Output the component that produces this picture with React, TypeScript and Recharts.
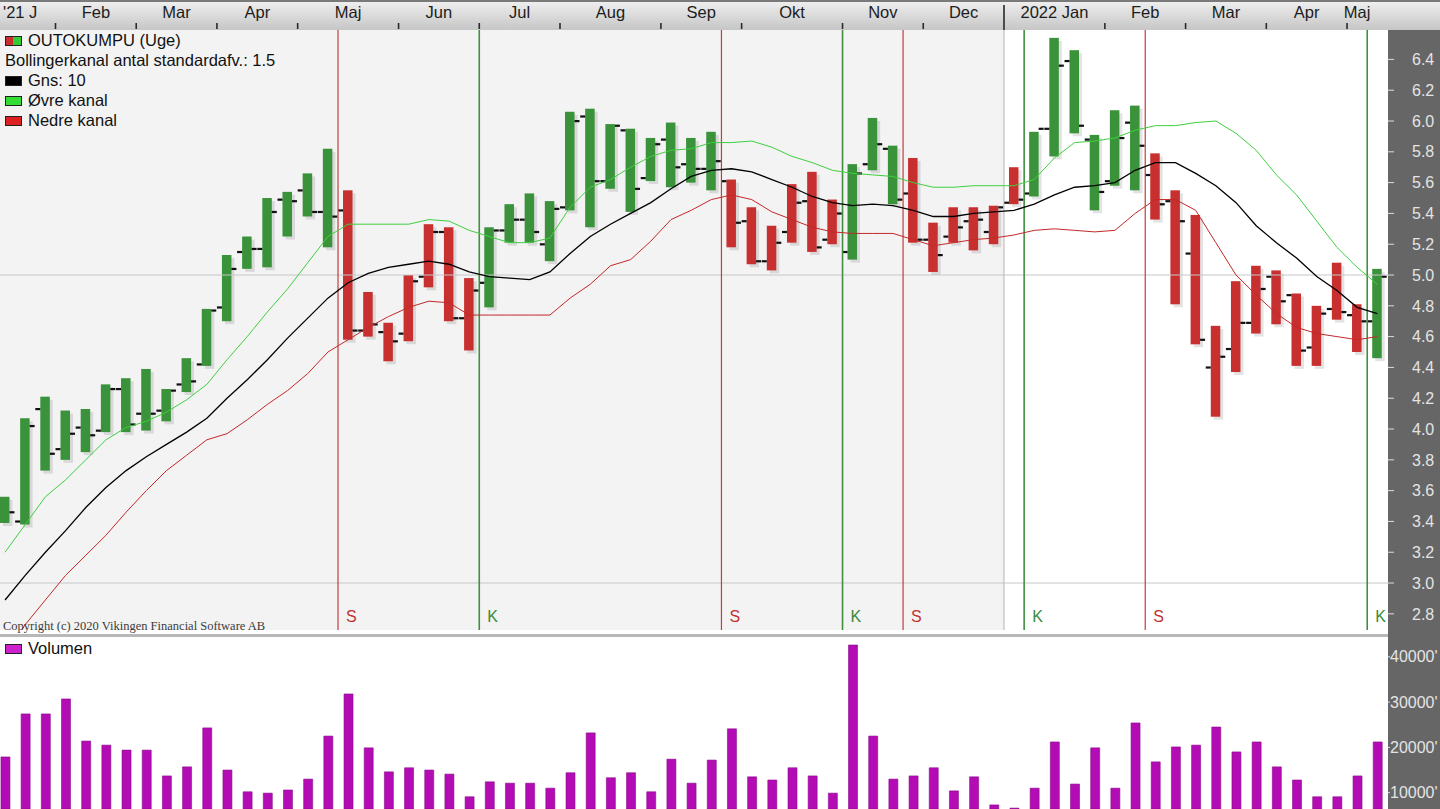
import React from 'react';
import {
  ComposedChart,
  BarChart,
  Bar,
  Line,
  XAxis,
  YAxis,
  ReferenceLine,
  ReferenceArea,
} from 'recharts';

// Weekly OUTOKUMPU quotes, Jan 2021 - May 2022 (one entry per week)
const highs = [
  3.56, 4.07, 4.21, 4.12, 4.13, 4.29, 4.33, 4.39, 4.26, 4.46,
  4.78, 5.13, 5.25, 5.50, 5.54, 5.66, 5.82, 5.55, 4.89, 4.69,
  5.00, 5.33, 5.31, 4.98, 5.31, 5.46, 5.53, 5.48, 6.06, 6.08,
  5.98, 5.95, 5.89, 5.99, 5.89, 5.93, 5.62, 5.44, 5.32, 5.59,
  5.67, 5.49, 5.72, 6.02, 5.84, 5.76, 5.34, 5.44, 5.44, 5.45,
  5.70, 5.93, 6.54, 6.46, 5.91, 6.07, 6.10, 5.79, 5.55, 5.39,
  4.67, 4.96, 5.06, 5.03, 4.88, 4.80, 5.08, 4.81, 5.04,
];
const lows = [
  3.39, 3.38, 3.73, 3.80, 3.85, 3.98, 3.98, 3.99, 4.05, 4.24,
  4.41, 4.70, 5.04, 5.05, 5.25, 5.38, 5.18, 4.58, 4.60, 4.44,
  4.57, 4.92, 4.70, 4.51, 4.79, 5.21, 5.21, 5.09, 5.42, 5.31,
  5.56, 5.41, 5.61, 5.57, 5.60, 5.55, 5.18, 5.07, 5.03, 5.21,
  5.15, 5.20, 5.10, 5.68, 5.46, 5.21, 5.02, 5.21, 5.16, 5.20,
  5.46, 5.51, 5.77, 5.92, 5.42, 5.58, 5.55, 5.36, 4.81, 4.55,
  4.08, 4.37, 4.62, 4.68, 4.41, 4.41, 4.71, 4.50, 4.46,
];
const opens = [
  3.42, 3.40, 4.13, 3.87, 4.01, 3.99, 4.26, 4.10, 4.12, 4.29,
  4.42, 4.79, 5.15, 5.17, 5.49, 5.55, 5.41, 5.42, 4.64, 4.63,
  4.62, 4.99, 5.28, 4.72, 4.95, 5.29, 5.36, 5.20, 5.44, 6.03,
  5.61, 5.94, 5.63, 5.88, 5.72, 5.69, 5.61, 5.35, 5.09, 5.28,
  5.48, 5.23, 5.15, 5.72, 5.82, 5.53, 5.23, 5.25, 5.35, 5.28,
  5.47, 5.53, 5.95, 6.39, 5.88, 5.61, 5.99, 5.65, 5.48, 5.14,
  4.40, 4.52, 4.69, 4.99, 4.87, 4.53, 4.78, 4.74, 4.70,
];
const closes = [
  3.46, 4.02, 3.84, 3.97, 3.96, 4.26, 4.03, 4.10, 4.25, 4.31,
  4.77, 5.04, 5.17, 5.41, 5.48, 5.41, 5.38, 4.64, 4.68, 4.57,
  4.96, 5.28, 4.72, 4.90, 5.29, 5.36, 5.28, 5.43, 6.00, 5.61,
  5.97, 5.56, 5.85, 5.70, 5.69, 5.74, 5.34, 5.09, 5.21, 5.47,
  5.18, 5.40, 5.66, 5.85, 5.49, 5.23, 5.13, 5.31, 5.36, 5.44,
  5.49, 5.95, 6.36, 5.97, 5.54, 5.89, 5.84, 5.46, 5.35, 4.58,
  4.47, 4.69, 4.91, 4.83, 4.51, 4.75, 4.76, 4.70, 4.99,
];

// Bollinger channel (10 week average, 1.5 standard deviations)
const averages = [
  2.89, 3.05, 3.20, 3.34, 3.49, 3.62, 3.73, 3.82, 3.90, 3.98,
  4.07, 4.20, 4.32, 4.45, 4.59, 4.72, 4.85, 4.95, 5.01, 5.05,
  5.07, 5.09, 5.07, 5.02, 4.99, 4.98, 4.97, 5.02, 5.14, 5.25,
  5.33, 5.40, 5.47, 5.56, 5.64, 5.68, 5.69, 5.67, 5.62, 5.57,
  5.51, 5.47, 5.45, 5.46, 5.45, 5.42, 5.38, 5.38, 5.40, 5.41,
  5.42, 5.46, 5.52, 5.57, 5.58, 5.60, 5.68, 5.73, 5.73, 5.66,
  5.58, 5.47, 5.32, 5.21, 5.11, 4.99, 4.90, 4.79, 4.75,
];
const upperBand = [
  3.20, 3.38, 3.56, 3.67, 3.80, 3.93, 4.01, 4.05, 4.11, 4.19,
  4.29, 4.45, 4.60, 4.76, 4.91, 5.08, 5.25, 5.33, 5.33, 5.33,
  5.33, 5.36, 5.35, 5.29, 5.25, 5.21, 5.21, 5.24, 5.44, 5.57,
  5.62, 5.70, 5.77, 5.81, 5.82, 5.86, 5.86, 5.87, 5.83, 5.77,
  5.73, 5.68, 5.66, 5.65, 5.64, 5.60, 5.57, 5.57, 5.58, 5.58,
  5.58, 5.62, 5.76, 5.86, 5.87, 5.89, 5.94, 5.97, 5.97, 5.99,
  6.00, 5.92, 5.81, 5.65, 5.52, 5.35, 5.18, 5.05, 4.94,
];
const lowerBand = [
  2.53, 2.73, 2.89, 3.05, 3.18, 3.31, 3.46, 3.60, 3.73, 3.83,
  3.93, 3.97, 4.06, 4.16, 4.25, 4.36, 4.50, 4.58, 4.66, 4.73,
  4.79, 4.83, 4.82, 4.74, 4.74, 4.74, 4.74, 4.74, 4.85, 4.94,
  5.06, 5.10, 5.22, 5.36, 5.42, 5.49, 5.52, 5.49, 5.41, 5.36,
  5.31, 5.28, 5.27, 5.27, 5.27, 5.23, 5.19, 5.21, 5.23, 5.24,
  5.26, 5.29, 5.30, 5.29, 5.28, 5.29, 5.40, 5.49, 5.49, 5.42,
  5.21, 5.00, 4.87, 4.75, 4.66, 4.62, 4.60, 4.58, 4.60,
];

// Weekly traded volume
const volumes = [
  17900, 27400, 27400, 30700, 21400, 20500, 19400, 19400, 13700, 15700,
  24300, 15000, 10200, 9900, 10600, 13000, 22500, 31800, 19900, 14600,
  15500, 15000, 14100, 9100, 12400, 12100, 12100, 11000, 14400, 23200,
  13300, 14400, 10200, 17400, 12100, 17200, 24100, 13500, 12800, 15500,
  13700, 9900, 42600, 22500, 13000, 13700, 15500, 10400, 13500, 7300,
  6600, 11000, 21200, 11900, 19900, 11000, 25400, 16800, 20100, 20500,
  24500, 19000, 21200, 15700, 12800, 9100, 9100, 13700, 21200,
];

// Buy (K) / sell (S) signals, placed between two weeks
const signalAt = [16.5, 23.5, 35.5, 41.5, 44.5, 50.5, 56.5, 67.5];
const signalType = ['S', 'K', 'S', 'K', 'S', 'K', 'S', 'K'];

// Month labels and the week each month starts in
const monthLabels = ["'21 J", 'Feb', 'Mar', 'Apr', 'Maj', 'Jun', 'Jul', 'Aug', 'Sep', 'Okt', 'Nov', 'Dec', '2022 Jan', 'Feb', 'Mar', 'Apr', 'Maj'];
const monthStart = [0, 3, 7, 11, 15, 20, 24, 28, 33, 37, 42, 46, 50, 55, 59, 63, 67];

const priceTicks = [2.8, 3.0, 3.2, 3.4, 3.6, 3.8, 4.0, 4.2, 4.4, 4.6, 4.8, 5.0, 5.2, 5.4, 5.6, 5.8, 6.0, 6.2, 6.4];
const volumeTicks = [10000, 20000, 30000, 40000];

const X_MIN = -0.25;
const X_MAX = 68.53;
const GREEN = '#3a923a';
const RED = '#c83030';
const FONT = '"Liberation Sans", Arial, sans-serif';

const regimeOf = (i: number) => {
  let t = 'K';
  signalAt.forEach((s, k) => {
    if (s < i) t = signalType[k];
  });
  return t;
};

const rows = highs.map((h, i) => ({
  i,
  high: h,
  low: lows[i],
  open: opens[i],
  close: closes[i],
  avg: averages[i],
  upper: upperBand[i],
  lower: lowerBand[i],
  vol: volumes[i],
  regime: regimeOf(i),
}));

// header tick descriptors: month label centres and month boundaries
type HeadTick = { kind: 'label' | 'bound'; text?: string; year?: boolean; anchor?: string };
const headTicks = new Map<number, HeadTick>();
monthLabels.forEach((label, k) => {
  const start = monthStart[k];
  const next = k + 1 < monthStart.length ? monthStart[k + 1] : highs.length - 1;
  if (k === 0) {
    headTicks.set(X_MIN, { kind: 'label', text: label, anchor: 'start' });
  } else {
    headTicks.set(start - 0.5, { kind: 'bound', year: label.startsWith('2022') });
    headTicks.set((start - 0.5 + next - 0.5) / 2, { kind: 'label', text: label, anchor: 'middle' });
  }
});
const headTickValues = Array.from(headTicks.keys()).sort((a, b) => a - b);
const yearBoundary = monthStart[monthLabels.findIndex((m) => m.startsWith('2022'))] - 0.5;

const HeaderTick = (props: any) => {
  const { x, payload } = props;
  const t = headTicks.get(payload.value);
  if (!t) return null;
  if (t.kind === 'bound') {
    return t.year ? (
      <line x1={x} x2={x} y1={5} y2={30} stroke="#4a4a4a" strokeWidth={2} />
    ) : (
      <line x1={x} x2={x} y1={23} y2={29} stroke="#2a2a2a" strokeWidth={1.6} />
    );
  }
  return (
    <text
      x={t.anchor === 'start' ? x + 3 : x}
      y={18}
      textAnchor={t.anchor}
      fontSize={16.5}
      fontFamily={FONT}
      fill="#1c1c1c"
    >
      {t.text}
    </text>
  );
};

// High-low bar with open tick on the left and close tick on the right
const PriceBar = (props: any) => {
  const { x, y, width, height, payload } = props;
  if (payload == null || height == null) return null;
  const span = payload.high - payload.low;
  const ppu = span > 0 ? height / span : 0;
  const yOpen = y + (payload.high - payload.open) * ppu;
  const yClose = y + (payload.high - payload.close) * ppu;
  const fill = payload.regime === 'K' ? GREEN : RED;
  return (
    <g>
      <rect x={x + 3} y={y + 3} width={width} height={height} fill="rgba(0,0,0,0.11)" />
      <rect x={x} y={y} width={width} height={height} fill={fill} />
      <rect x={x - 5} y={yOpen - 1} width={5} height={2.2} fill="#111" />
      <rect x={x + width} y={yClose - 1} width={5} height={2.2} fill="#111" />
    </g>
  );
};

const LegendIcon = ({ color, split }: { color?: string; split?: boolean }) => (
  <span
    style={{
      display: 'inline-block',
      width: 17,
      height: 10,
      border: '1px solid #222',
      boxSizing: 'border-box',
      background: split ? `linear-gradient(90deg, ${RED} 50%, #33cc33 50%)` : color,
      marginRight: 6,
      verticalAlign: 'middle',
      position: 'relative',
      top: -1,
    }}
  />
);

const legendRow: React.CSSProperties = {
  height: 20,
  lineHeight: '20px',
  fontSize: 16.5,
  fontFamily: FONT,
  color: '#111',
  whiteSpace: 'nowrap',
};

export default function App() {
  return (
    <div
      style={{
        position: 'absolute',
        left: 0,
        top: 0,
        width: 1440,
        height: 809,
        overflow: 'hidden',
        background: '#ffffff',
        fontFamily: FONT,
      }}
    >
      {/* header band */}
      <div
        style={{
          position: 'absolute',
          left: 0,
          top: 0,
          width: 1440,
          height: 30,
          boxSizing: 'border-box',
          borderTop: '2px solid #7a7a7a',
          background: 'linear-gradient(#eeeeee, #c6c6c6)',
        }}
      />
      {/* right scale panel */}
      <div style={{ position: 'absolute', left: 1388, top: 30, width: 52, height: 779, background: '#666666' }} />

      {/* price panel */}
      <div style={{ position: 'absolute', left: 0, top: 0 }}>
        <ComposedChart width={1440} height={630} data={rows} margin={{ top: 0, right: 0, bottom: 0, left: 0 }}>
          <XAxis
            xAxisId="x"
            dataKey="i"
            type="number"
            orientation="top"
            height={30}
            domain={[X_MIN, X_MAX]}
            allowDataOverflow
            ticks={headTickValues}
            interval={0}
            tick={<HeaderTick />}
            tickLine={false}
            axisLine={false}
          />
          <YAxis
            yAxisId="p"
            orientation="right"
            width={52}
            domain={[2.695, 6.591]}
            allowDataOverflow
            ticks={priceTicks}
            interval={0}
            tickFormatter={(v: number) => v.toFixed(1)}
            tick={{ fill: '#e4e4e4', fontSize: 16, fontFamily: FONT }}
            tickSize={6}
            tickMargin={18}
            tickLine={{ stroke: '#dddddd' }}
            axisLine={false}
          />
          <ReferenceArea xAxisId="x" yAxisId="p" x1={X_MIN} x2={yearBoundary} fill="#f3f3f3" fillOpacity={1} stroke="none" />
          <ReferenceLine xAxisId="x" yAxisId="p" y={5.0} stroke="#c8c8c8" strokeWidth={1} />
          <ReferenceLine xAxisId="x" yAxisId="p" y={3.0} stroke="#c8c8c8" strokeWidth={1} />
          <ReferenceLine xAxisId="x" yAxisId="p" x={yearBoundary} stroke="#b4b4b4" strokeWidth={1} />
          {signalAt.map((s, k) => (
            <ReferenceLine
              key={`sig-${k}`}
              xAxisId="x"
              yAxisId="p"
              x={s}
              stroke={signalType[k] === 'S' ? '#c43c3c' : '#3f8f3f'}
              strokeWidth={signalType[k] === 'S' ? 1.2 : 1.6}
              label={{
                value: signalType[k],
                position: 'insideBottomLeft',
                offset: 8,
                fill: signalType[k] === 'S' ? '#c03232' : '#3a8a3a',
                fontSize: 16,
                fontFamily: FONT,
              }}
            />
          ))}
          <Bar
            xAxisId="x"
            yAxisId="p"
            dataKey={(d: any) => [d.low, d.high]}
            barSize={9.5}
            shape={<PriceBar />}
            isAnimationActive={false}
          />
          <Line xAxisId="x" yAxisId="p" type="linear" dataKey="lower" stroke="#c42828" strokeWidth={1} dot={false} isAnimationActive={false} />
          <Line xAxisId="x" yAxisId="p" type="linear" dataKey="upper" stroke="#3fcf3f" strokeWidth={1} dot={false} isAnimationActive={false} />
          <Line xAxisId="x" yAxisId="p" type="linear" dataKey="avg" stroke="#000000" strokeWidth={1.3} dot={false} isAnimationActive={false} />
        </ComposedChart>
      </div>

      {/* price legend */}
      <div style={{ position: 'absolute', left: 5, top: 30 }}>
        <div style={legendRow}>
          <LegendIcon split />
          OUTOKUMPU (Uge)
        </div>
        <div style={legendRow}>Bollingerkanal antal standardafv.: 1.5</div>
        <div style={legendRow}>
          <LegendIcon color="#000000" />
          Gns: 10
        </div>
        <div style={legendRow}>
          <LegendIcon color="#33dd33" />
          Øvre kanal
        </div>
        <div style={legendRow}>
          <LegendIcon color="#dd2020" />
          Nedre kanal
        </div>
      </div>

      <div
        style={{
          position: 'absolute',
          left: 3,
          top: 619,
          fontFamily: '"Liberation Serif", "Times New Roman", serif',
          fontSize: 12.5,
          color: '#3c3c3c',
          whiteSpace: 'nowrap',
        }}
      >
        Copyright (c) 2020 Vikingen Financial Software AB
      </div>

      {/* panel separator */}
      <div style={{ position: 'absolute', left: 0, top: 634, width: 1388, height: 3, background: '#b8b8b8' }} />

      {/* volume panel */}
      <div style={{ position: 'absolute', left: 0, top: 640 }}>
        <BarChart width={1440} height={169} data={rows} margin={{ top: 0, right: 0, bottom: 0, left: 0 }}>
          <XAxis xAxisId="x" dataKey="i" type="number" domain={[X_MIN, X_MAX]} allowDataOverflow hide />
          <YAxis
            yAxisId="v"
            orientation="right"
            width={52}
            domain={[6400, 43710]}
            allowDataOverflow
            ticks={volumeTicks}
            interval={0}
            tickFormatter={(v: number) => `${v}'`}
            tick={{ fill: '#e4e4e4', fontSize: 16, fontFamily: FONT }}
            tickSize={2}
            tickMargin={0}
            tickLine={{ stroke: '#dddddd' }}
            axisLine={false}
          />
          <Bar xAxisId="x" yAxisId="v" dataKey="vol" barSize={9} fill="#b40cb4" stroke="#8a0a8a" strokeWidth={0.6} isAnimationActive={false} />
        </BarChart>
      </div>

      <div style={{ position: 'absolute', left: 5, top: 638, ...legendRow }}>
        <LegendIcon color="#cc22cc" />
        Volumen
      </div>
    </div>
  );
}
